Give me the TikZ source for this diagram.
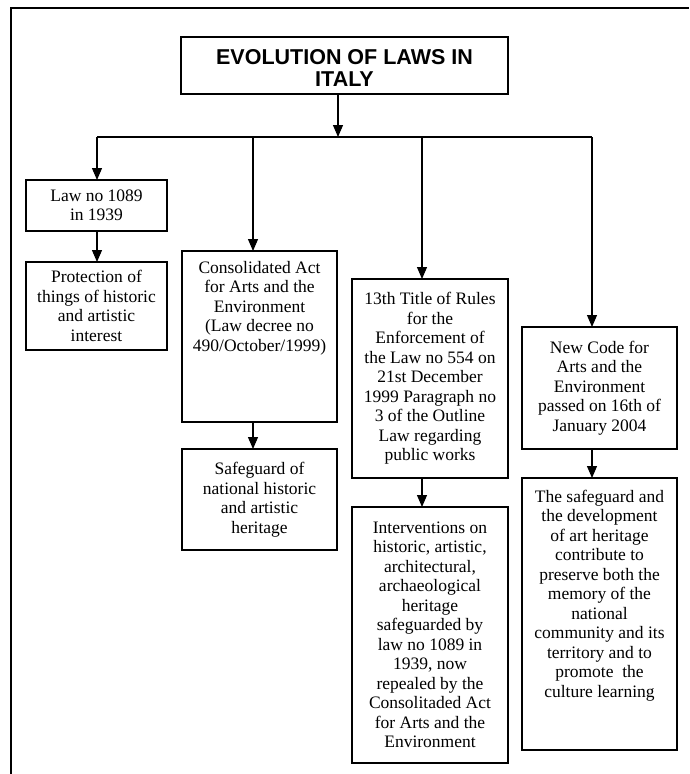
\documentclass[tikz,border=0pt]{standalone}
\usepackage{fontspec}
\setmainfont{Liberation Serif}
\newfontfamily\titlefont{Liberation Sans}
\usetikzlibrary{arrows.meta}
\newcommand{\cbox}[3]{\parbox[c][#2pt][c]{#1pt}{\centering #3}}
\newcommand{\tbox}[4]{\parbox[c][#2pt][t]{#1pt}{\centering\vspace*{#3pt}#4}}
\begin{document}
\begin{tikzpicture}[x=1pt,y=-1pt,
  box/.style={draw, line width=1.2pt, inner sep=0pt, outer sep=0pt,
    font=\fontsize{17.5pt}{19.5pt}\selectfont},
  titlebox/.style={draw, line width=1.5pt, inner sep=0pt, outer sep=0pt,
    font=\titlefont\bfseries\fontsize{21.5pt}{22pt}\selectfont},
  arr/.style={line width=1.1pt, -{Triangle[width=10pt,length=12pt]}},
  link/.style={line width=1.1pt},
  frameline/.style={line width=1.5pt}]
\useasboundingbox (0,0) rectangle (689,774);
\draw[frameline] (11,774) -- (11,8) -- (689,8);

\node[titlebox] (title) at (344.5,65.5) {\tbox{327}{57}{12}{EVOLUTION OF LAWS IN\\ITALY}};

\node[box] (law) at (96.5,205.5) {\cbox{141}{51}{Law no 1089\\in 1939}};
\node[box] (prot) at (96.5,306) {\cbox{141}{88}{Protection of\\things of historic\\and artistic\\interest}};

\node[box] (cons) at (259.5,336.5) {\tbox{155}{171}{10}{Consolidated Act\\for Arts and the\\Environment\\(Law decree no\\490/October/1999)}};
\node[box] (safe) at (259.5,499.5) {\cbox{155}{101}{Safeguard of\\national historic\\and artistic\\heritage}};

\node[box] (rules) at (430,378.5) {\cbox{156}{199}{13th Title of Rules\\for the\\Enforcement of\\the Law no 554 on\\21st December\\1999 Paragraph no\\3 of the Outline\\Law regarding\\public works}};
\node[box] (interv) at (430,635) {\cbox{156}{256}{Interventions on\\historic, artistic,\\architectural,\\archaeological\\heritage\\safeguarded by\\law no 1089 in\\1939, now\\repealed by the\\Consolitaded Act\\for Arts and the\\Environment}};

\node[box] (newcode) at (599.5,388) {\cbox{155}{122}{New Code for\\Arts and the\\Environment\\passed on 16th of\\January 2004}};
\node[box] (final) at (599.5,614) {\tbox{155}{272}{12}{The safeguard and\\the development\\of art heritage\\contribute to\\preserve both the\\memory of the\\national\\community and its\\territory and to\\promote~ the\\culture learning}};

\coordinate (bl) at (97,137);
\coordinate (tj) at (338,137);
\coordinate (j2) at (253,137);
\coordinate (j3) at (422,137);
\coordinate (br) at (592,137);

\draw[link] (bl) -- (br);
\draw[arr] (title.south -| tj) -- (tj);
\draw[arr] (bl) -- (law.north -| bl);
\draw[arr] (j2) -- (cons.north -| j2);
\draw[arr] (j3) -- (rules.north -| j3);
\draw[arr] (br) -- (newcode.north -| br);
\draw[arr] (law.south -| bl) -- (prot.north -| bl);
\draw[arr] (cons.south -| j2) -- (safe.north -| j2);
\draw[arr] (rules.south -| j3) -- (interv.north -| j3);
\draw[arr] (newcode.south -| br) -- (final.north -| br);
\end{tikzpicture}
\end{document}
